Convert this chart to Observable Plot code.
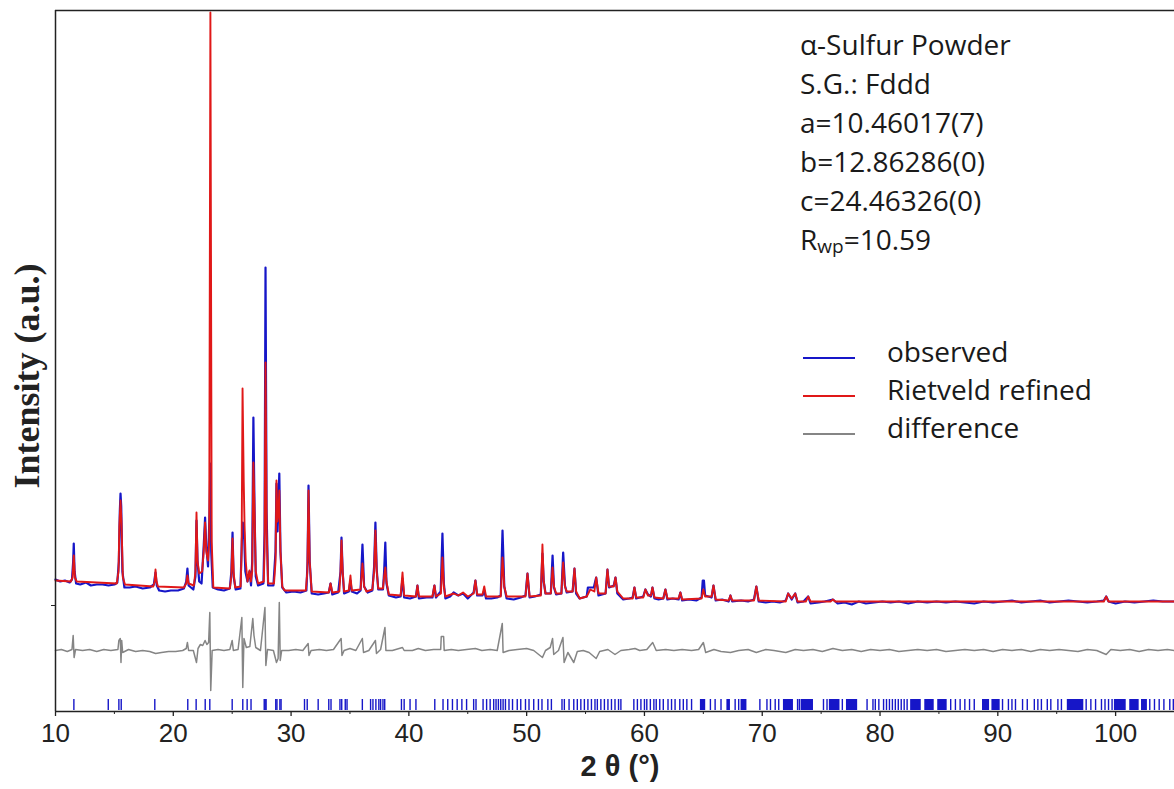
<!DOCTYPE html>
<html>
<head>
<meta charset="utf-8">
<script src="https://cdn.jsdelivr.net/npm/d3@7"></script>
<script src="https://cdn.jsdelivr.net/npm/@observablehq/plot@0.6"></script>
<style>
  html, body { margin: 0; padding: 0; background: #fff; }
  #wrap { position: relative; width: 1174px; height: 789px; overflow: hidden; }
  .note { position: absolute; font-family: "Open Sans", sans-serif; font-size: 28px; color: #1a1a1a; line-height: 39px; white-space: nowrap; }
  .note sub { font-size: 19px; vertical-align: baseline; position: relative; top: 3px; }
  .leg { position: absolute; font-family: "Open Sans", sans-serif; font-size: 28px; color: #1a1a1a; line-height: 38px; white-space: nowrap; }
  .leg .row { position: relative; height: 38px; }
  .leg .sw { position: absolute; left: 0; width: 52px; height: 0; border-top: 2.5px solid; }
  .leg .lab { position: absolute; left: 84px; top: 0; }
</style>
</head>
<body>
<div id="wrap"></div>
<script>
// ---- axes ----
const xDomain = [10, 105];
const yDomain = [0, 701];
const majorTicks = [10, 20, 30, 40, 50, 60, 70, 80, 90, 100];
const minorTicks = [15, 25, 35, 45, 55, 65, 75, 85, 95];
const yTicks = [106];

// ---- observed profile [2theta, intensity a.u.] ----
const observed = [
[10.0,132],[10.4,130],[10.8,131],[11.2,129],[11.4,132],[11.5,150],[11.55,168],[11.62,140],[11.75,128],[12.1,127],[12.6,129],[13.0,126],[13.5,127],[14.0,127],[14.5,126],[15.0,127],[15.25,129],[15.38,150],[15.46,200],[15.52,218],[15.58,205],[15.68,140],[15.85,124],[16.3,124],[16.8,125],[17.4,123],[18.0,124],[18.35,127],[18.49,139],[18.6,126],[18.8,121],[19.3,120],[19.8,121],[20.4,121],[20.9,123],[21.1,130],[21.2,143],[21.3,126],[21.7,122],[21.88,135],[21.97,191],[22.06,150],[22.2,130],[22.4,128],[22.58,165],[22.7,194],[22.8,165],[22.95,145],[23.08,200],[23.15,248],[23.22,160],[23.35,124],[23.8,122],[24.3,121],[24.8,123],[24.93,140],[25.03,179],[25.12,135],[25.3,122],[25.7,123],[25.82,170],[25.9,189],[26.0,180],[26.12,140],[26.3,130],[26.47,140],[26.6,126],[26.7,150],[26.8,294],[26.9,200],[27.0,135],[27.2,126],[27.65,128],[27.75,180],[27.83,444],[27.92,200],[28.05,126],[28.5,126],[28.68,160],[28.76,228],[28.85,180],[28.93,210],[29.0,238],[29.1,160],[29.25,124],[29.6,119],[30.2,120],[30.8,119],[31.3,121],[31.4,150],[31.48,226],[31.58,150],[31.75,118],[32.3,117],[32.8,118],[33.2,119],[33.35,128],[33.5,117],[34.0,119],[34.2,140],[34.28,174],[34.38,140],[34.5,118],[34.9,120],[35.04,131],[35.15,120],[35.6,118],[35.9,121],[36.06,167],[36.2,125],[36.5,119],[36.9,121],[37.05,145],[37.16,189],[37.27,142],[37.4,122],[37.8,122],[37.9,140],[38.0,169],[38.1,128],[38.3,116],[38.9,114],[39.3,115],[39.46,133],[39.6,114],[40.1,113],[40.6,115],[40.73,126],[40.85,113],[41.5,114],[42.0,114],[42.17,126],[42.3,114],[42.7,120],[42.85,178],[42.97,128],[43.1,113],[43.5,115],[43.8,119],[44.2,116],[44.6,118],[45.0,113],[45.5,119],[45.65,131],[45.8,116],[46.25,116],[46.4,121],[46.55,113],[47.0,113],[47.5,114],[47.8,116],[47.95,181],[48.1,125],[48.3,113],[48.9,112],[49.5,114],[49.9,116],[50.07,138],[50.25,114],[50.7,115],[51.2,117],[51.34,158],[51.45,130],[51.6,118],[52.05,118],[52.2,156],[52.32,124],[52.5,117],[52.95,118],[53.1,159],[53.25,126],[53.4,119],[53.9,120],[54.06,143],[54.2,118],[54.5,113],[55.1,115],[55.2,124],[55.7,124],[55.9,134],[56.1,116],[56.7,118],[56.86,142],[57.0,124],[57.4,126],[57.54,134],[57.7,118],[58.2,112],[58.7,113],[59.0,114],[59.15,124],[59.3,113],[59.9,115],[60.08,122],[60.3,117],[60.55,115],[60.68,124],[60.85,113],[61.2,112],[61.6,113],[61.78,122],[61.95,112],[62.4,113],[62.9,112],[63.05,119],[63.2,111],[63.8,112],[64.4,111],[64.85,114],[64.95,131],[65.05,131],[65.15,116],[65.7,114],[65.86,126],[66.05,111],[66.6,112],[67.15,110],[67.3,116],[67.45,110],[68.2,111],[68.8,110],[69.3,112],[69.5,125],[69.7,110],[70.3,109],[70.9,110],[71.5,109],[72.0,111],[72.2,118],[72.5,112],[72.8,118],[73.0,109],[73.5,110],[73.9,115],[74.1,108],[74.8,109],[75.3,110],[76.0,112],[76.4,108],[77.0,109],[77.6,107],[78.2,110],[78.8,108],[79.5,109],[80.2,110],[80.9,109],[81.6,110],[82.4,108],[83.2,110],[84.0,109],[84.8,110],[85.6,109],[86.4,110],[87.2,109],[88.0,108],[88.8,110],[89.6,109],[90.4,110],[91.2,111],[92.0,109],[92.8,110],[93.6,111],[94.4,109],[95.2,110],[96.0,111],[96.8,110],[97.6,109],[98.4,110],[99.0,111],[99.2,115],[99.4,110],[100.0,108],[100.8,110],[101.6,109],[102.4,110],[103.2,111],[104.0,110],[105,110]
];

// ---- Rietveld calculated profile ----
const calculated = [
[10.0,131],[11.3,130],[11.45,134],[11.55,156],[11.65,134],[11.8,130],[13.5,129],[15.2,128],[15.35,140],[15.42,185],[15.52,211],[15.6,190],[15.72,134],[15.9,127],[18.3,125],[18.42,130],[18.49,142],[18.58,130],[18.7,125],[20.9,124],[21.1,128],[21.2,136],[21.3,128],[21.75,126],[21.88,140],[21.97,199],[22.06,150],[22.2,138],[22.45,140],[22.58,160],[22.7,189],[22.8,160],[22.95,151],[23.05,170],[23.15,699],[23.26,170],[23.4,124],[24.8,123],[24.93,135],[25.03,173],[25.12,140],[25.25,124],[25.72,125],[25.8,160],[25.88,323],[25.98,230],[26.05,186],[26.15,150],[26.3,130],[26.47,141],[26.58,130],[26.7,140],[26.8,249],[26.9,200],[27.0,140],[27.2,128],[27.68,130],[27.75,160],[27.83,349],[27.93,180],[28.05,128],[28.55,128],[28.68,150],[28.76,231],[28.85,190],[28.93,200],[29.0,221],[29.1,160],[29.25,125],[29.45,121],[31.25,121],[31.38,140],[31.48,221],[31.58,150],[31.75,120],[33.2,119],[33.35,128],[33.5,119],[34.1,120],[34.2,140],[34.28,171],[34.38,140],[34.5,120],[34.9,121],[35.04,136],[35.15,121],[35.9,122],[36.06,148],[36.2,125],[36.4,120],[36.9,122],[37.05,140],[37.16,181],[37.27,140],[37.4,123],[37.8,123],[37.9,135],[38.0,144],[38.1,130],[38.3,117],[39.3,116],[39.46,139],[39.6,116],[40.6,115],[40.73,126],[40.85,115],[42.0,115],[42.17,126],[42.3,115],[42.72,118],[42.85,154],[42.97,125],[43.1,115],[43.8,118],[44.2,116],[44.6,119],[45.0,115],[45.5,118],[45.65,131],[45.8,117],[46.25,117],[46.4,125],[46.55,115],[47.8,115],[47.95,154],[48.1,125],[48.3,115],[49.9,115],[50.07,138],[50.25,115],[51.2,116],[51.34,167],[51.45,130],[51.6,118],[52.05,118],[52.2,144],[52.32,125],[52.5,118],[52.95,118],[53.1,149],[53.25,125],[53.4,120],[53.9,120],[54.06,143],[54.2,120],[54.5,113],[55.1,115],[55.4,122],[55.75,120],[55.9,134],[56.1,118],[56.7,118],[56.86,142],[57.0,125],[57.4,125],[57.54,134],[57.7,120],[58.2,113],[59.0,113],[59.15,124],[59.3,114],[59.9,114],[60.08,122],[60.3,116],[60.55,116],[60.68,124],[60.85,114],[61.6,113],[61.78,122],[61.95,113],[62.9,113],[63.05,119],[63.2,112],[64.85,113],[65.0,122],[65.15,115],[65.7,115],[65.86,126],[66.05,112],[67.15,111],[67.3,116],[67.45,111],[69.3,111],[69.5,125],[69.7,111],[72.0,110],[72.2,118],[72.5,113],[72.8,118],[73.0,110],[73.7,110],[73.9,115],[74.1,110],[75.8,110],[76.0,112],[76.2,110],[99.0,110],[99.2,115],[99.4,110],[105,110]
];

// ---- difference (obs - calc), drawn with an offset ----
const difference = [
[10.0,0],[10.5,1],[11.0,-1],[11.4,1],[11.5,15],[11.58,-7],[11.7,1],[12.3,0],[12.9,1],[13.5,-1],[14.1,1],[14.7,0],[15.3,1],[15.38,10],[15.5,12],[15.56,-12],[15.62,10],[15.7,-2],[16.2,1],[16.8,-1],[17.4,0],[18.0,-1],[18.5,-3],[19.0,-2],[19.6,-1],[20.2,-1],[20.8,0],[21.1,2],[21.2,8],[21.3,0],[21.7,0],[21.97,-12],[22.1,2],[22.3,6],[22.5,5],[22.7,10],[22.85,6],[23.0,8],[23.1,38],[23.18,-40],[23.3,0],[23.8,1],[24.3,0],[24.8,1],[25.0,10],[25.1,0],[25.5,1],[25.82,33],[25.9,-37],[26.0,12],[26.2,3],[26.5,4],[26.75,32],[26.85,15],[27.0,3],[27.4,0],[27.78,43],[27.86,-15],[28.0,1],[28.5,0],[28.76,-12],[28.9,-8],[29.0,48],[29.08,-10],[29.2,0],[29.8,0],[30.4,1],[31.0,0],[31.45,7],[31.52,-5],[31.7,0],[32.4,1],[33.0,0],[33.6,1],[34.25,12],[34.32,-5],[34.5,0],[35.0,2],[35.5,0],[36.05,12],[36.15,-2],[36.6,0],[37.16,10],[37.25,-3],[37.6,1],[37.97,23],[38.05,0],[38.6,0],[39.46,3],[39.6,0],[40.3,0],[40.8,2],[41.4,0],[42.1,1],[42.7,1],[42.75,14],[42.95,14],[43.0,0],[43.6,1],[44.2,0],[44.9,1],[45.65,2],[46.2,0],[46.9,1],[47.5,0],[47.93,27],[48.0,-2],[48.5,0],[49.2,1],[50.0,2],[50.6,0],[51.34,-7],[51.6,0],[52.0,3],[52.2,12],[52.3,-4],[52.7,0],[53.08,13],[53.18,-12],[53.5,-2],[54.0,-12],[54.3,-1],[54.8,0],[55.3,-2],[55.9,-8],[56.2,-1],[56.9,1],[57.5,-4],[58.0,0],[58.7,1],[59.2,2],[59.6,0],[60.2,1],[60.7,8],[61.0,0],[61.8,1],[62.5,0],[63.2,1],[64.0,0],[64.6,1],[65.0,8],[65.2,-2],[65.9,1],[66.5,-1],[67.3,-2],[68.0,0],[68.8,1],[69.5,-2],[70.3,1],[71.0,0],[72.0,-2],[72.8,1],[73.5,0],[74.3,1],[75.1,-1],[76.0,2],[76.8,0],[77.6,1],[78.4,-1],[79.2,1],[80.0,0],[80.8,1],[81.6,-1],[82.4,0],[83.2,1],[84.0,0],[84.8,1],[85.6,-1],[86.4,0],[87.2,1],[88.0,0],[88.8,1],[89.6,-1],[90.4,1],[91.2,0],[92.0,1],[92.8,-1],[93.6,1],[94.4,0],[95.2,1],[96.0,0],[96.8,-1],[97.6,1],[98.4,0],[99.2,-4],[99.6,1],[100.4,0],[101.2,1],[102.0,-1],[102.8,1],[103.6,0],[104.4,1],[105,0]
];

// ---- Bragg reflection positions (single ticks and dense runs) ----
const reflTicks = [
11.56,14.48,15.38,15.58,18.43,21.23,21.94,22.71,23.10,
25.0,25.9,26.27,26.6,27.72,27.8,27.88,28.7,28.8,29.05,29.15,31.14,31.37,32.3,33.2,33.39,34.15,34.3,34.6,34.75,
36.05,36.75,36.95,37.2,37.45,37.6,37.8,37.95,
39.37,39.6,40.1,40.6,
42.2,42.9,43.3,43.7,44.1,44.5,44.9,45.5,45.7,46.3,46.6,46.9,47.2,47.4,47.6,47.8,48.0,48.2,48.5,48.8,49.2,49.5,49.9,50.2,50.6,51.0,51.3,51.8,52.1,
53.0,53.2,53.6,54.0,54.3,54.6,54.9,55.2,55.5,55.8,56.0,56.3,56.6,56.9,57.2,57.5,57.8,58.0,
59.1,59.4,59.7,60.0,60.2,60.5,60.8,61.0,61.3,61.6,62.0,62.3,62.6,63.0,63.3,63.6,64.0,
65.6,66.0,66.5,67.7,68.0,69.8,70.4,70.7,71.1,71.4,73.0,73.15,75.2,75.5,76.8,78.9,79.4,79.6,79.9,
80.3,80.55,80.8,81.05,81.3,81.55,81.8,82.05,82.3,
86.0,86.4,86.8,87.2,87.6,88.0,90.4,90.9,91.2,91.5,92.1,92.5,93.1,93.4,93.7,94.2,94.5,95.1,95.4,
97.5,97.9,98.3,98.8,99.1,99.4,99.7,102.9,103.3,103.7,104.1,104.6,104.9
];
const reflBlocks = [
[64.75,65.2],[67.0,67.3],[68.2,68.7],[71.8,72.65],[73.3,74.35],[75.7,76.6],[77.15,78.1],
[82.6,83.5],[83.8,84.6],[84.9,85.7],[88.7,89.3],[89.5,90.2],[95.9,97.3],[99.9,100.9],[101.2,102.0],[102.2,102.7]
];

// ---- styling (not data) ----
const BLUE = "#1616c8", RED = "#e01818", GRAY = "#858585", INK = "#222";
const diffOffset = 61;
const tickBand = [1, 12];

const chart = Plot.plot({
  width: 1174, height: 789,
  marginLeft: 55, marginRight: 0, marginTop: 10, marginBottom: 78,
  x: {domain: xDomain},
  y: {domain: yDomain},
  style: {fontFamily: "'Liberation Sans', Arial, sans-serif", background: "white", overflow: "visible", color: INK},
  marks: [
    Plot.axisX({ticks: majorTicks, tickSize: 5, tickPadding: 7, fontSize: 26, label: null, strokeWidth: 1.3}),
    Plot.axisX({ticks: minorTicks, tickSize: 3, tickFormat: () => "", label: null}),
    Plot.axisY({ticks: yTicks, tickSize: 4, tickFormat: () => "", label: null}),
    Plot.rect(reflBlocks, {x1: d => d[0], x2: d => d[1], y1: tickBand[0], y2: tickBand[1], fill: BLUE}),
    Plot.ruleX(reflTicks, {x: d => d, y1: tickBand[0], y2: tickBand[1], stroke: BLUE, strokeWidth: 1.4}),
    Plot.line(difference, {x: d => d[0], y: d => d[1] + diffOffset, stroke: GRAY, strokeWidth: 1.5}),
    Plot.line(observed, {x: d => d[0], y: d => d[1], stroke: BLUE, strokeWidth: 2.2}),
    Plot.line(calculated, {x: d => d[0], y: d => d[1], stroke: RED, strokeWidth: 1.9}),
    Plot.ruleY([yDomain[0]], {stroke: INK, strokeWidth: 1.5}),
    Plot.ruleY([yDomain[1]], {stroke: INK, strokeWidth: 1.5}),
    Plot.ruleX([xDomain[0]], {stroke: INK, strokeWidth: 1.5}),
    Plot.text(["2 θ (°)"], {text: d => d, frameAnchor: "bottom", dx: 5, dy: 64, lineAnchor: "bottom",
      fontSize: 29, fontWeight: "bold", fill: INK}),
    Plot.text(["Intensity (a.u.)"], {text: d => d, frameAnchor: "left", textAnchor: "middle", dx: -28, dy: 15, rotate: -90,
      fontSize: 36, fontWeight: "bold", fontFamily: "'Liberation Serif', 'Times New Roman', serif", fill: INK})
  ]
});

const wrap = document.getElementById("wrap");
wrap.appendChild(chart);

// ---- annotation & legend ----
const infoLines = ["α-Sulfur Powder", "S.G.: Fddd", "a=10.46017(7)", "b=12.86286(0)", "c=24.46326(0)"];
const rwp = "10.59";
const legendItems = [
  {label: "observed", color: BLUE},
  {label: "Rietveld refined", color: RED},
  {label: "difference", color: GRAY}
];

const note = document.createElement("div");
note.className = "note";
note.style.left = "800px";
note.style.top = "25px";
note.innerHTML = infoLines.map(s => `<div>${s}</div>`).join("") + `<div>R<sub>wp</sub>=${rwp}</div>`;
wrap.appendChild(note);

const leg = document.createElement("div");
leg.className = "leg";
leg.style.left = "803px";
leg.style.top = "332px";
legendItems.forEach(it => {
  const row = document.createElement("div");
  row.className = "row";
  const sw = document.createElement("div");
  sw.className = "sw";
  sw.style.borderTopColor = it.color;
  sw.style.top = "25px";
  const lab = document.createElement("div");
  lab.className = "lab";
  lab.textContent = it.label;
  row.appendChild(sw); row.appendChild(lab);
  leg.appendChild(row);
});
wrap.appendChild(leg);
</script>
</body>
</html>
